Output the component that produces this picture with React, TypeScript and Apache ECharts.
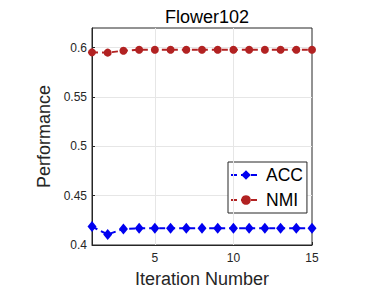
import React, { useEffect, useRef } from "react";
import * as echarts from "echarts";

const iterations = [1, 2, 3, 4, 5, 6, 7, 8, 9, 10, 11, 12, 13, 14, 15];
const accValues = [0.4187, 0.4107, 0.4163, 0.417, 0.417, 0.417, 0.417, 0.417, 0.417, 0.417, 0.417, 0.417, 0.417, 0.417, 0.417];
const nmiValues = [0.5953, 0.595, 0.597, 0.598, 0.598, 0.598, 0.598, 0.598, 0.598, 0.598, 0.598, 0.598, 0.598, 0.598, 0.598];
const xTickLabels = [5, 10, 15];
const yTickLabels = [0.4, 0.45, 0.5, 0.55, 0.6];

const FONT = "Liberation Sans";
const AXIS = "#262626";
const GRIDC = "#e6e6e6";

export default function App() {
  const ref = useRef<HTMLDivElement>(null);
  useEffect(() => {
    if (!ref.current) return;
    const chart = echarts.init(ref.current, undefined, { renderer: "svg" });
    chart.setOption({
      animation: false,
      backgroundColor: "#ffffff",
      title: {
        text: "Flower102",
        left: 202,
        textAlign: "center",
        top: 3,
        textStyle: { fontFamily: FONT, fontSize: 18, fontWeight: "normal", color: "#000" },
      },
      grid: {
        left: 92,
        right: 78,
        top: 28,
        bottom: 45,
        show: true,
        borderColor: AXIS,
        borderWidth: 1,
        backgroundColor: "#fff",
      },
      legend: {
        orient: "vertical",
        left: 228,
        top: 162,
        padding: [4, 4, 4, 2],
        itemWidth: 30,
        itemHeight: 12,
        itemGap: 7,
        backgroundColor: "#fff",
        borderColor: AXIS,
        borderWidth: 1,
        textStyle: { fontFamily: FONT, fontSize: 17.5, color: "#000" },
        data: ["ACC", "NMI"],
      },
      xAxis: {
        type: "value",
        min: 1,
        max: 15,
        interval: 1,
        name: "Iteration Number",
        nameLocation: "middle",
        nameGap: 25,
        nameTextStyle: { fontFamily: FONT, fontSize: 18, color: AXIS },
        axisLine: { lineStyle: { color: AXIS } },
        axisTick: { inside: true, length: 3, customValues: xTickLabels, lineStyle: { color: AXIS } },
        axisLabel: {
          customValues: xTickLabels,
          margin: 7,
          fontFamily: FONT,
          fontSize: 12,
          color: AXIS,
        },
        splitLine: { show: false },
      },
      yAxis: {
        type: "value",
        min: 0.4,
        max: 0.62,
        interval: 0.05,
        name: "Performance",
        nameLocation: "middle",
        nameGap: 35,
        nameTextStyle: { fontFamily: FONT, fontSize: 18, color: AXIS },
        axisLine: { show: true, lineStyle: { color: AXIS } },
        axisTick: { show: true, inside: true, length: 3, customValues: yTickLabels, lineStyle: { color: AXIS } },
        axisLabel: {
          customValues: yTickLabels,
          margin: 5,
          fontFamily: FONT,
          fontSize: 12,
          color: AXIS,
        },
        splitLine: { show: true, lineStyle: { color: GRIDC } },
      },
      series: [
        {
          name: "grid",
          type: "line",
          data: [],
          silent: true,
          markLine: {
            silent: true,
            symbol: "none",
            label: { show: false },
            lineStyle: { color: GRIDC, type: "solid", width: 1 },
            data: [{ xAxis: 5 }, { xAxis: 10 }],
          },
        },
        {
          name: "ACC",
          type: "line",
          data: iterations.map((x, i) => [x, accValues[i]]),
          symbol: "diamond",
          symbolSize: [9, 11],
          color: "#0000f0",
          itemStyle: { color: "#0000f0" },
          lineStyle: { color: "#0000f0", width: 2, type: [6, 4] },
          z: 5,
        },
        {
          name: "NMI",
          type: "line",
          data: iterations.map((x, i) => [x, nmiValues[i]]),
          symbol: "circle",
          symbolSize: 8,
          color: "#b22222",
          itemStyle: { color: "#b22222" },
          lineStyle: { color: "#b22222", width: 2, type: [6, 4] },
          z: 5,
        },
      ],
    });
    return () => chart.dispose();
  }, []);
  return <div ref={ref} style={{ width: 390, height: 293, position: "absolute", left: 0, top: 0 }} />;
}
